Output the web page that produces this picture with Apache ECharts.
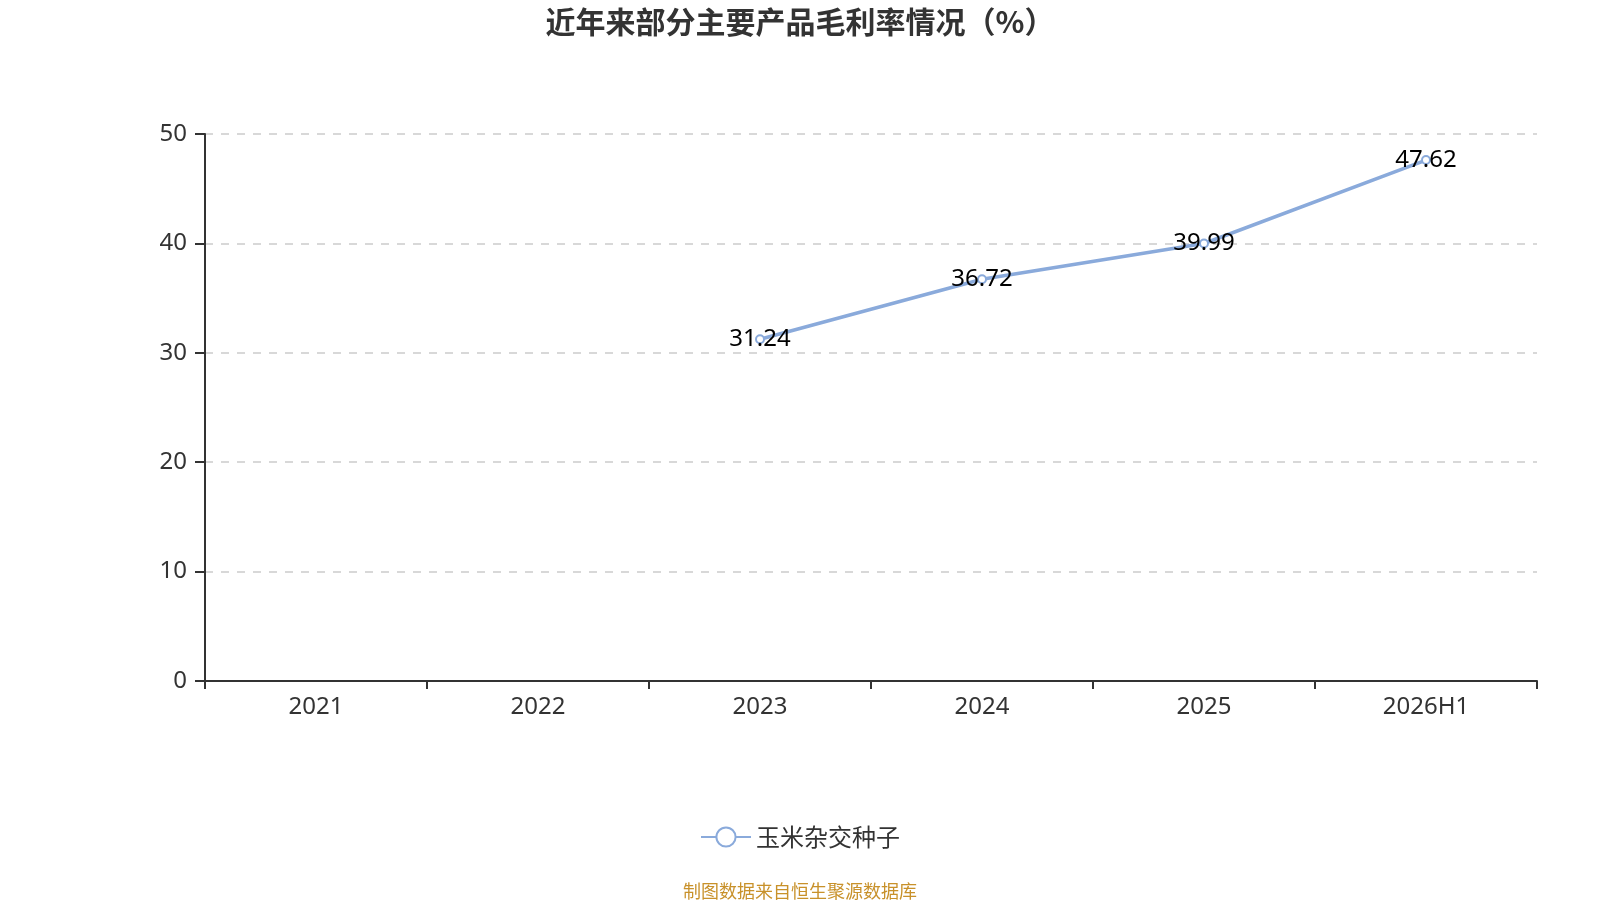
<!DOCTYPE html>
<html><head><meta charset="utf-8">
<script src="https://cdn.jsdelivr.net/npm/echarts@6/dist/echarts.min.js"></script>
<style>html,body{margin:0;padding:0;background:#fff}#c{width:1600px;height:900px}</style>
</head><body><div id="c"></div>
<script>
const categories = ['2021','2022','2023','2024','2025','2026H1'];
const seriesName = '玉米杂交种子';
const values = [null, null, 31.24, 36.72, 39.99, 47.62];
const yTicks = { min: 0, max: 50, interval: 10 };
const titleText = '近年来部分主要产品毛利率情况（%）';
const sourceText = '制图数据来自恒生聚源数据库';

const font = '"Noto Sans", "Noto Sans CJK SC", sans-serif';
const cjk = '"Noto Sans CJK SC", sans-serif';
const chart = echarts.init(document.getElementById('c'));
chart.setOption({
  textStyle: { fontFamily: font },
  title: [{
    text: titleText, left: 'center', top: 2,
    textStyle: { fontSize: 30, fontWeight: 'bold', color: '#333', fontFamily: cjk }
  }, {
    text: sourceText, left: 'center', top: 877,
    textStyle: { fontSize: 18, fontWeight: 'normal', color: '#c8912a', fontFamily: cjk }
  }],
  legend: {
    data: [seriesName], top: 820, left: 'center',
    itemWidth: 50, itemHeight: 24, itemGap: 10,
    textStyle: { fontSize: 24, color: '#333', fontFamily: cjk }
  },
  grid: { left: 205, right: 63, top: 134, bottom: 219 },
  xAxis: {
    type: 'category', data: categories, boundaryGap: true,
    axisLine: { lineStyle: { color: '#333', width: 2 } },
    axisTick: { show: true, length: 8, lineStyle: { color: '#333', width: 2 } },
    axisLabel: { fontSize: 24, color: '#333', margin: 14, fontFamily: font }
  },
  yAxis: {
    type: 'value', min: yTicks.min, max: yTicks.max, interval: yTicks.interval,
    axisLine: { show: true, lineStyle: { color: '#333', width: 2 } },
    axisTick: { show: true, length: 10, lineStyle: { color: '#333', width: 2 } },
    axisLabel: { fontSize: 24, color: '#333', margin: 18, fontFamily: font },
    splitLine: { show: true, lineStyle: { type: [8, 8], color: '#ccc', width: 1.5 } }
  },
  series: [{
    name: seriesName, type: 'line', data: values,
    symbol: 'emptyCircle', symbolSize: 8,
    lineStyle: { color: '#8aaadb', width: 3.5 },
    itemStyle: { color: '#8aaadb', borderWidth: 2 },
    label: { show: true, position: 'inside', fontSize: 24, color: '#000', fontFamily: font },
    connectNulls: false
  }]
});
</script></body></html>
